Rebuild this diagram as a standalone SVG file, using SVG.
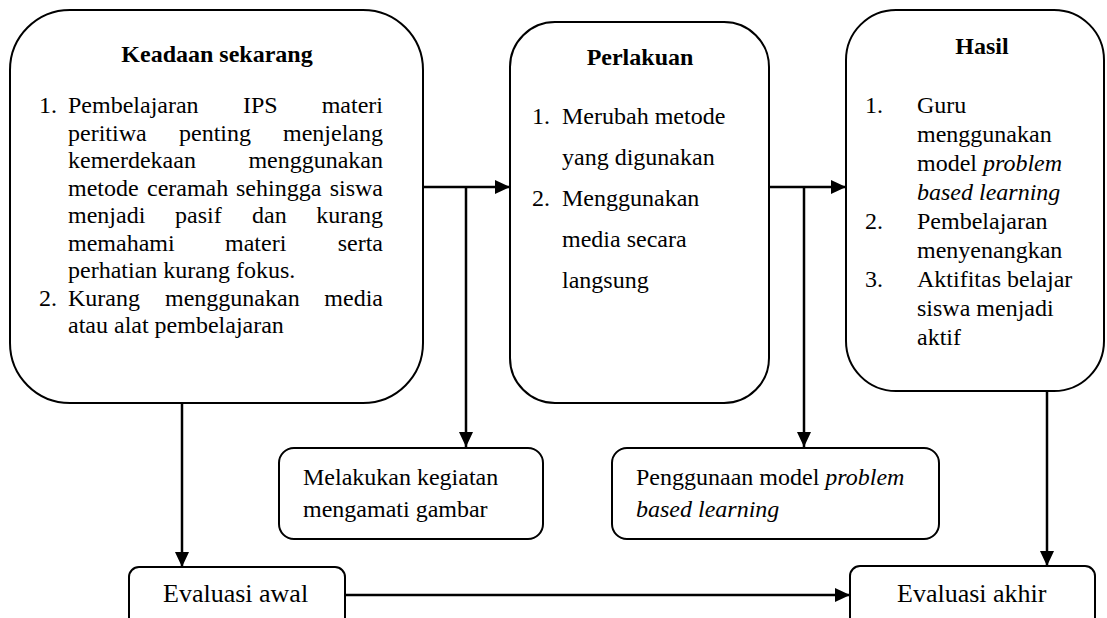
<svg xmlns="http://www.w3.org/2000/svg" width="1107" height="618" viewBox="0 0 1107 618">
<defs>
<style>
.box{fill:#fff;stroke:#000;stroke-width:2}
.t{font-family:"Liberation Serif","Times New Roman",serif;font-size:24px;fill:#000}
.b{font-weight:bold}
.i{font-style:italic}
.e{font-size:26px}
.c{fill:none;stroke:#000;stroke-width:2.5}
</style>
<marker id="ah" markerUnits="userSpaceOnUse" markerWidth="16" markerHeight="14" refX="15" refY="7" orient="auto">
<path d="M0,0 L15,7 L0,14 z" fill="#000"/>
</marker>
</defs>
<rect width="1107" height="618" fill="#fff"/>
<g id="connectors">
<path class="c" d="M423,187 H510" marker-end="url(#ah)"/>
<path class="c" d="M466,187 V447" marker-end="url(#ah)"/>
<path class="c" d="M769,187 H846" marker-end="url(#ah)"/>
<path class="c" d="M804,187 V447" marker-end="url(#ah)"/>
<path class="c" d="M182,403 V567" marker-end="url(#ah)"/>
<path class="c" d="M1047,391 V566" marker-end="url(#ah)"/>
<path class="c" d="M345,595 H850" marker-end="url(#ah)"/>
</g>
<g id="keadaan">
<rect class="box" x="10" y="10" width="413" height="393" rx="60"/>
<text class="t b" x="217" y="62" text-anchor="middle">Keadaan sekarang</text>
<text class="t" x="39" y="113">1.</text>
<text class="t" y="113"><tspan x="68">Pembelajaran</tspan><tspan x="243">IPS</tspan><tspan x="383" text-anchor="end">materi</tspan></text>
<text class="t" y="140.5"><tspan x="68">peritiwa</tspan><tspan x="179">penting</tspan><tspan x="383" text-anchor="end">menjelang</tspan></text>
<text class="t" y="168"><tspan x="68">kemerdekaan</tspan><tspan x="383" text-anchor="end">menggunakan</tspan></text>
<text class="t" y="195.5"><tspan x="68">metode</tspan><tspan x="147">ceramah</tspan><tspan x="236">sehingga</tspan><tspan x="383" text-anchor="end">siswa</tspan></text>
<text class="t" y="223"><tspan x="68">menjadi</tspan><tspan x="175">pasif</tspan><tspan x="252">dan</tspan><tspan x="383" text-anchor="end">kurang</tspan></text>
<text class="t" y="250.5"><tspan x="68">memahami</tspan><tspan x="225">materi</tspan><tspan x="383" text-anchor="end">serta</tspan></text>
<text class="t" x="68" y="278">perhatian kurang fokus.</text>
<text class="t" x="39" y="305.5">2.</text>
<text class="t" y="305.5"><tspan x="68">Kurang</tspan><tspan x="165">menggunakan</tspan><tspan x="383" text-anchor="end">media</tspan></text>
<text class="t" x="68" y="333">atau alat pembelajaran</text>
</g>
<g id="perlakuan">
<rect class="box" x="510" y="22" width="259" height="381" rx="45"/>
<text class="t b" x="640" y="65" text-anchor="middle">Perlakuan</text>
<text class="t" x="532" y="124">1.</text>
<text class="t" x="562" y="124">Merubah metode</text>
<text class="t" x="562" y="165">yang digunakan</text>
<text class="t" x="532" y="206">2.</text>
<text class="t" x="562" y="206">Menggunakan</text>
<text class="t" x="562" y="247">media secara</text>
<text class="t" x="562" y="288">langsung</text>
</g>
<g id="hasil">
<rect class="box" x="846" y="10" width="258" height="381" rx="50"/>
<text class="t b" x="982" y="54" text-anchor="middle">Hasil</text>
<text class="t" x="865" y="113">1.</text>
<text class="t" x="917" y="113">Guru</text>
<text class="t" x="917" y="142">menggunakan</text>
<text class="t" x="917" y="171">model <tspan class="i">problem</tspan></text>
<text class="t i" x="917" y="200">based learning</text>
<text class="t" x="865" y="229">2.</text>
<text class="t" x="917" y="229">Pembelajaran</text>
<text class="t" x="917" y="258">menyenangkan</text>
<text class="t" x="865" y="287">3.</text>
<text class="t" x="917" y="287">Aktifitas belajar</text>
<text class="t" x="917" y="316">siswa menjadi</text>
<text class="t" x="917" y="345">aktif</text>
</g>
<g id="melakukan">
<rect class="box" x="279" y="448" width="264" height="91" rx="15"/>
<text class="t" x="303" y="485">Melakukan kegiatan</text>
<text class="t" x="303" y="517">mengamati gambar</text>
</g>
<g id="penggunaan">
<rect class="box" x="612" y="448" width="327" height="91" rx="15"/>
<text class="t" x="636" y="485">Penggunaan model <tspan class="i">problem</tspan></text>
<text class="t i" x="636" y="517">based learning</text>
</g>
<g id="evaluasi-awal">
<rect class="box" x="129" y="567" width="216" height="70" rx="10"/>
<text class="t e" x="163" y="602">Evaluasi awal</text>
</g>
<g id="evaluasi-akhir">
<rect class="box" x="850" y="566" width="245" height="70" rx="10"/>
<text class="t e" x="897" y="602">Evaluasi akhir</text>
</g>
</svg>
